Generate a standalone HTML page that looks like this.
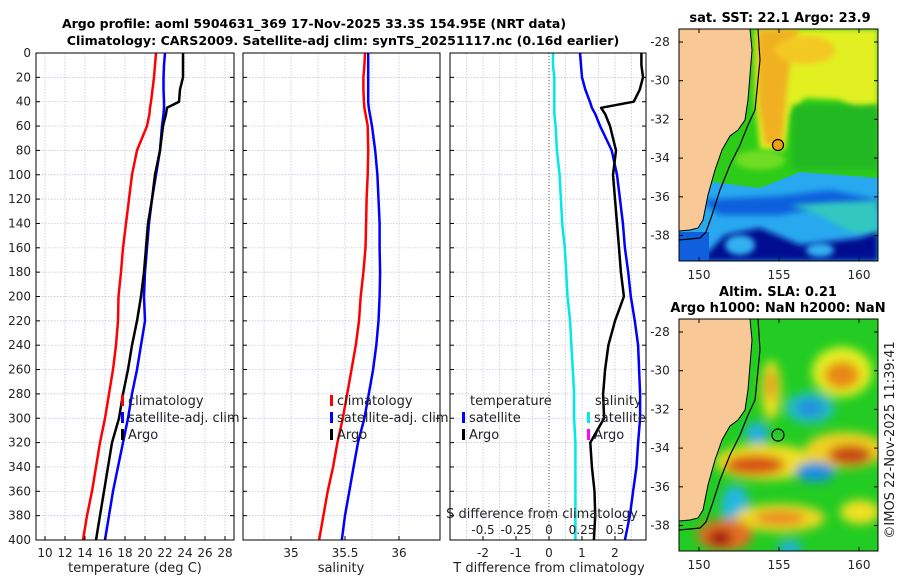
<!DOCTYPE html>
<html><head><meta charset="utf-8"><style>
body{margin:0;background:#fff}
svg{display:block;font-family:"DejaVu Sans","Liberation Sans",sans-serif}
</style></head><body>
<svg id="c" width="900" height="580" viewBox="0 0 900 580" xmlns="http://www.w3.org/2000/svg">
<defs>
<filter id="bl" x="-50%" y="-50%" width="200%" height="200%"><feGaussianBlur stdDeviation="5"/></filter>
<filter id="bl2" x="-50%" y="-50%" width="200%" height="200%"><feGaussianBlur stdDeviation="3"/></filter>
<clipPath id="m1"><rect x="679" y="29" width="199" height="232"/></clipPath>
<clipPath id="m2"><rect x="679" y="319" width="199" height="232"/></clipPath>
</defs>
<text x="314" y="28" text-anchor="middle" font-size="12.5" font-weight="bold">Argo profile: aoml 5904631_369 17-Nov-2025 33.3S 154.95E (NRT data)</text>
<text x="343" y="45" text-anchor="middle" font-size="12.6" font-weight="bold">Climatology: CARS2009. Satellite-adj clim: synTS_20251117.nc (0.16d earlier)</text>
<g id="plots"></g>
<g id="maps">
<g clip-path="url(#m1)">
<rect x="679" y="29" width="199" height="232" fill="#2ccc18"/>
<polygon points="755,29 878,29 878,105 860,112 840,100 805,98 790,115 785,150 760,150 755,100" fill="#e2f020" filter="url(#bl2)"/>
<polygon points="758,29 800,29 792,50 788,80 785,110 782,145 765,145 758,100" fill="#f0b020" filter="url(#bl2)"/>
<ellipse cx="805" cy="50" rx="30" ry="14" fill="#f4c820" filter="url(#bl2)"/>
<rect x="792" y="105" width="86" height="65" fill="#20b820" filter="url(#bl2)"/>
<ellipse cx="760" cy="160" rx="25" ry="10" fill="#70dd20" filter="url(#bl2)"/>
<polygon points="679,178 760,188 800,172 878,178 878,261 679,261" fill="#28a8ee"/>
<polygon points="700,200 780,196 830,190 878,200 878,212 830,205 780,215 720,215" fill="#1060dd" filter="url(#bl2)"/>
<polygon points="790,205 878,200 878,235 850,232 820,215" fill="#30c8c0" filter="url(#bl2)"/>
<polygon points="725,235 760,228 800,245 860,238 878,232 878,261 700,261" fill="#000c90" filter="url(#bl2)"/>
<ellipse cx="740" cy="245" rx="15" ry="10" fill="#30b0f0" filter="url(#bl2)"/>
<ellipse cx="820" cy="250" rx="14" ry="7" fill="#30b0f0" filter="url(#bl2)"/>
<rect x="679" y="232" width="30" height="29" fill="#1060dd"/>
<polygon points="679,29 750,29 752,50 748,100 745,120 738,130 730,136 722,150 715,170 708,195 703,220 698,228 690,230 679,231" fill="#f8c896" stroke="#000" stroke-width="1"/>
<polyline points="758,29 760,60 755,110 748,125 740,145 730,165 720,190 712,215 706,232 700,238 679,240" fill="none" stroke="#000" stroke-width="1.2"/>
<circle cx="778" cy="145" r="5.5" fill="#f0a010" stroke="#000" stroke-width="1.2"/>
</g>
<rect x="679" y="29" width="199" height="232" fill="none" stroke="#000" stroke-width="1"/>
<g clip-path="url(#m2)">
<rect x="679" y="319" width="199" height="232" fill="#22cc22"/>
<g filter="url(#bl)">
<ellipse cx="842" cy="372" rx="30" ry="25" fill="#e8f020"/>
<ellipse cx="842" cy="375" rx="18" ry="14" fill="#e88818"/>
<ellipse cx="771" cy="390" rx="10" ry="30" fill="#e8e020"/>
<ellipse cx="771" cy="385" rx="5" ry="15" fill="#e89020"/>
<ellipse cx="810" cy="408" rx="25" ry="16" fill="#20c0c0"/>
<ellipse cx="810" cy="408" rx="15" ry="9" fill="#2090e0"/>
<ellipse cx="757" cy="433" rx="12" ry="11" fill="#20b0e0"/>
<ellipse cx="765" cy="462" rx="50" ry="18" fill="#f0e020"/>
<ellipse cx="755" cy="465" rx="30" ry="10" fill="#d85018"/>
<ellipse cx="845" cy="450" rx="40" ry="18" fill="#f0d020"/>
<ellipse cx="850" cy="455" rx="22" ry="10" fill="#c84418"/>
<ellipse cx="815" cy="472" rx="20" ry="10" fill="#1890e0"/>
<ellipse cx="735" cy="505" rx="14" ry="20" fill="#20b8e0"/>
<ellipse cx="780" cy="518" rx="45" ry="14" fill="#f0d820"/>
<ellipse cx="780" cy="518" rx="25" ry="7" fill="#e88820"/>
<ellipse cx="725" cy="535" rx="28" ry="16" fill="#e07020"/>
<ellipse cx="720" cy="538" rx="12" ry="8" fill="#a01010"/>
<ellipse cx="790" cy="548" rx="12" ry="8" fill="#20b0e0"/>
<ellipse cx="860" cy="512" rx="20" ry="12" fill="#f0e020"/>
</g>
<polygon points="679,319 750,319 752,340 748,390 745,410 738,420 730,426 722,440 715,460 708,485 703,510 698,518 690,520 679,521" fill="#f8c896" stroke="#000" stroke-width="1"/>
<polyline points="758,319 760,350 755,400 748,415 740,435 730,455 720,480 712,505 706,522 700,528 679,530" fill="none" stroke="#000" stroke-width="1.2"/>
<circle cx="778" cy="435" r="6" fill="none" stroke="#000" stroke-width="1.2"/>
</g>
<rect x="679" y="319" width="199" height="232" fill="none" stroke="#000" stroke-width="1"/>
</g>
<text x="780" y="22" text-anchor="middle" font-size="13" font-weight="bold">sat. SST: 22.1 Argo: 23.9</text>
<text x="778" y="296" text-anchor="middle" font-size="13" font-weight="bold">Altim. SLA: 0.21</text>
<text x="778" y="312" text-anchor="middle" font-size="13" font-weight="bold">Argo h1000: NaN h2000: NaN</text>
<text transform="translate(894,440) rotate(-90)" text-anchor="middle" font-size="13" fill="#222">©IMOS 22-Nov-2025 11:39:41</text>
</svg>
<script>
const depths=[0,10,20,30,40,45,50,60,80,100,120,140,160,180,200,220,240,260,280,300,320,340,360,380,400];
const tempClim=[21.1,21.0,20.9,20.75,20.6,20.5,20.45,20.2,19.2,18.7,18.4,18.1,17.8,17.6,17.35,17.3,17.1,16.8,16.4,16.0,15.5,15.1,14.7,14.2,13.8];
const tempSat=[22.0,21.9,21.85,21.85,21.9,21.9,21.85,21.7,21.5,21.1,20.7,20.4,20.2,20.0,19.9,20.0,19.6,19.2,18.7,18.3,17.8,17.3,16.8,16.4,16.0];
const tempArgo=[23.8,23.8,23.8,23.5,23.4,22.2,22.1,21.8,21.5,21.0,20.7,20.3,20.1,19.9,19.6,19.2,18.7,18.3,17.8,17.4,16.7,16.3,15.9,15.5,15.1];
const salClim=[35.685,35.68,35.67,35.67,35.675,35.68,35.69,35.71,35.715,35.71,35.70,35.695,35.69,35.67,35.645,35.63,35.60,35.56,35.52,35.48,35.43,35.39,35.34,35.30,35.26];
const salSat=[35.715,35.715,35.715,35.715,35.715,35.72,35.73,35.75,35.78,35.80,35.81,35.82,35.82,35.825,35.82,35.81,35.79,35.76,35.72,35.68,35.62,35.58,35.54,35.50,35.47];
const tDiffSat=[0.94,0.97,1.0,1.1,1.24,1.3,1.4,1.55,1.9,2.06,2.15,2.24,2.3,2.4,2.48,2.6,2.7,2.73,2.76,2.76,2.7,2.65,2.55,2.45,2.3];
const tDiffArgo=[2.8,2.8,2.85,2.75,2.57,1.58,1.7,1.85,2.03,1.94,2.0,2.06,2.12,2.18,2.27,2.0,1.8,1.7,1.64,1.67,1.25,1.3,1.38,1.4,1.36];
const sDiffSat=[0.03,0.03,0.04,0.04,0.04,0.04,0.04,0.05,0.06,0.08,0.09,0.1,0.12,0.13,0.14,0.16,0.17,0.18,0.19,0.19,0.2,0.2,0.2,0.2,0.2];
const depthTicks=[0,20,40,60,80,100,120,140,160,180,200,220,240,260,280,300,320,340,360,380,400];
const tempTicks=[10,12,14,16,18,20,22,24,26,28];
const salTicks=[35,35.5,36];
const salGrid=[34.75,35,35.25,35.5,35.75,36];
const tDiffTicks=[-2,-1,0,1,2];
const tDiffGrid=[-2.5,-2,-1.5,-1,-0.5,0,0.5,1,1.5,2,2.5];
const sDiffTicks=[-0.5,-0.25,0,0.25,0.5];
const latTicks=[-28,-30,-32,-34,-36,-38];
const lonTicks=[150,155,160];

const NS="http://www.w3.org/2000/svg";
const G=document.getElementById('plots');
function mk(t,a,p){const e=document.createElementNS(NS,t);for(const k in a)e.setAttribute(k,a[k]);(p||G).appendChild(e);return e;}
const Y0=53,Y1=540;
const yD=d=>Y0+(d/400)*(Y1-Y0);
const xT=v=>45+(v-10)*10;
const xS=v=>291+(v-35)*108;
const xTD=v=>549+v*33;
const xSD=v=>549+v*132;
const panels=[[36,234],[243,440],[450,646]];

function grid(x0,x1,vals,fx){
  depthTicks.forEach(d=>{const l=mk('line',{x1:x0,x2:x1,y1:yD(d),y2:yD(d),stroke:'#b8c0e0','stroke-width':0.7,'stroke-dasharray':'1.5,1.5'});
  
  });
  vals.forEach(v=>{const l=mk('line',{x1:fx(v),x2:fx(v),y1:Y0,y2:Y1,stroke:'#b8c0e0','stroke-width':0.7,'stroke-dasharray':'1.5,1.5'});
  
  });
}
grid(36,234,tempTicks,xT);
grid(243,440,salGrid,xS);
grid(450,646,tDiffGrid,xTD);

function line(vals,fx,col,name,w){
  const pts=depths.map((d,i)=>fx(vals[i]).toFixed(1)+','+yD(d).toFixed(1)).join(' ');
  const p=mk('polyline',{points:pts,fill:'none',stroke:col,'stroke-width':w||2.5,'stroke-linejoin':'round'});
  
  
}
const z=mk('line',{x1:xTD(0),x2:xTD(0),y1:Y0,y2:Y1,stroke:'#555','stroke-width':1,'stroke-dasharray':'1,2'});



line(tempClim,xT,'#ff0000','temp-climatology-line');
line(tempSat,xT,'#0000ff','temp-satellite-line');
line(tempArgo,xT,'#000','temp-argo-line');
line(salClim,xS,'#ff0000','sal-climatology-line');
line(salSat,xS,'#0000ff','sal-satellite-line');
line(sDiffSat,xSD,'#00e8e8','sdiff-satellite-line');
line(tDiffSat,xTD,'#0000ff','tdiff-satellite-line');
line(tDiffArgo,xTD,'#000','tdiff-argo-line');

panels.forEach(([a,b],i)=>{
  const r=mk('rect',{x:a,y:Y0,width:b-a,height:Y1-Y0,fill:'none',stroke:'#000','stroke-width':1});
  
  
  depthTicks.forEach(d=>{mk('line',{x1:a,x2:a+4,y1:yD(d),y2:yD(d),stroke:'#000'});mk('line',{x1:b,x2:b-4,y1:yD(d),y2:yD(d),stroke:'#000'});});
});
function txt(x,y,s,anchor,size,name){const t=mk('text',{x:x,y:y,'text-anchor':anchor||'middle','font-size':size||12,fill:'#222'});t.textContent=s;
  
  return t;}
depthTicks.forEach(d=>txt(31,yD(d)+4,String(d),'end',12,'depth-tick-label'));
tempTicks.forEach(v=>{mk('line',{x1:xT(v),x2:xT(v),y1:Y1,y2:Y1-4,stroke:'#000'});txt(xT(v),557,String(v),'middle',12,'temp-tick-label');});
salTicks.forEach(v=>{mk('line',{x1:xS(v),x2:xS(v),y1:Y1,y2:Y1-4,stroke:'#000'});txt(xS(v),557,String(v),'middle',12,'sal-tick-label');});
tDiffTicks.forEach(v=>{mk('line',{x1:xTD(v),x2:xTD(v),y1:Y1,y2:Y1-4,stroke:'#000'});txt(xTD(v),557,String(v),'middle',12,'tdiff-tick-label');});
sDiffTicks.forEach(v=>txt(xSD(v),534,String(v),'middle',12,'sdiff-tick-label'));
txt(542,518,'S difference from climatology','middle',13,'sdiff-axis-title');
txt(135,572,'temperature (deg C)','middle',13,'temp-axis-title');
txt(341,572,'salinity','middle',13,'sal-axis-title');
txt(549,572,'T difference from climatology','middle',13,'tdiff-axis-title');

function leg(x,y,col,label,name){const r=mk('rect',{x:x,y:y-10,width:3,height:11,fill:col});
  
  
  txt(x+7,y,label,'start',13,name);}
leg(121,405,'#ff0000','climatology','legend-temp-clim');
leg(121,422,'#0000ff','satellite-adj. clim','legend-temp-sat');
leg(121,439,'#000','Argo','legend-temp-argo');
leg(330,405,'#ff0000','climatology','legend-sal-clim');
leg(330,422,'#0000ff','satellite-adj. clim','legend-sal-sat');
leg(330,439,'#000','Argo','legend-sal-argo');
txt(470,405,'temperature','start',13,'legend-tdiff-heading');
leg(462,422,'#0000ff','satellite','legend-tdiff-sat');
leg(462,439,'#000','Argo','legend-tdiff-argo');
txt(595,405,'salinity','start',13,'legend-sdiff-heading');
leg(587,422,'#00e8e8','satellite','legend-sdiff-sat');
leg(587,439,'#ff00ff','Argo','legend-sdiff-argo');

const M=document.getElementById('maps');
const xLon=v=>699+(v-150)*16;
[[29,42],[319,332]].forEach(([top,y28])=>{
  const yLat=v=>y28+(-28-v)*19.35;
  latTicks.forEach(v=>{mk('line',{x1:878,x2:874,y1:yLat(v),y2:yLat(v),stroke:'#000'},M);mk('line',{x1:679,x2:683,y1:yLat(v),y2:yLat(v),stroke:'#000'},M);
    txt(660,yLat(v)+4,String(v),'middle',12,'lat-tick-label');});
  lonTicks.forEach(v=>{mk('line',{x1:xLon(v),x2:xLon(v),y1:top+232,y2:top+228,stroke:'#000'},M);mk('line',{x1:xLon(v),x2:xLon(v),y1:top,y2:top+4,stroke:'#000'},M);
    txt(xLon(v),top+250,String(v),'middle',12,'lon-tick-label');});
});
</script>
</body></html>
